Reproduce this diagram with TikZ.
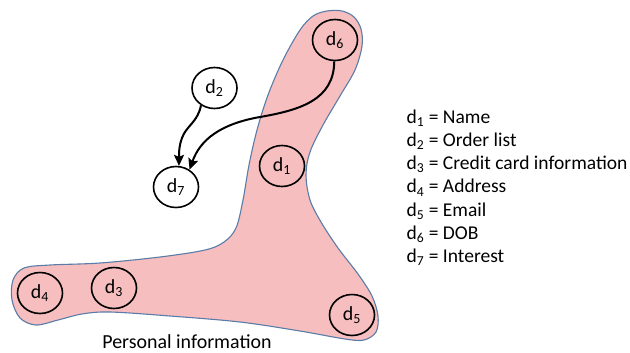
\documentclass[tikz,border=0pt]{standalone}
\usepackage{fontspec}
\setmainfont{Carlito}
\usetikzlibrary{shapes.geometric,arrows.meta}
\definecolor{blobfill}{HTML}{F6BEBE}
\definecolor{blobline}{HTML}{5A7CA8}
\tikzset{
  dnode/.style={ellipse,draw=black,line width=1.6bp,minimum width=45bp,minimum height=41bp,inner sep=0pt,font=\fontsize{20}{23}\selectfont},
  legend/.style={anchor=base west,inner sep=0pt,font=\fontsize{19.6}{23}\selectfont},
  conn/.style={line width=2bp,-{Stealth[length=11bp,width=10bp,inset=2bp]}},
}
\begin{document}
\begin{tikzpicture}[x=1bp,y=-1bp]
\useasboundingbox (0,0) rectangle (630,352);
% personal information region
\draw[fill=blobfill,draw=blobline,line width=1.1bp] plot[smooth cycle,tension=0.55] coordinates {
(327,11) (342,11) (354,17) (361,29) (362,46) (355,70) (340,96) (323,125) (310,152) (306,175) (310,200) (321,222) (338,248) (358,274) (372,296) (378,316) (376,332) (364,340) (345,339) (300,331) (240,322) (170,316) (110,312) (82,314) (58,320) (36,325) (20,318) (12,300) (13,280) (24,268) (50,265) (100,263) (160,257) (205,250) (224,242) (236,228) (243,200) (249,165) (257,130) (268,95) (283,60) (300,30) (313,16)};
\node[dnode] (d6) at (335,40) {d\textsubscript{6}};
\node[dnode] (d2) at (214.5,88) {d\textsubscript{2}};
\node[dnode] (d7) at (176,187) {d\textsubscript{7}};
\node[dnode] (d1) at (282,166) {d\textsubscript{1}};
\node[dnode] (d4) at (40,293) {d\textsubscript{4}};
\node[dnode] (d3) at (114,288) {d\textsubscript{3}};
\node[dnode] (d5) at (352,315) {d\textsubscript{5}};
% connectors
\draw[conn] (d2.-128) .. controls (198,122) and (186,126) .. (182,138) .. controls (179,146) and (179,152) .. (d7.82);
\draw[conn] (d6.-92) .. controls (334,100) and (300,110) .. (260,117) .. controls (220,124) and (200,140) .. (d7.52);
% label
\node[font=\fontsize{20}{23}\selectfont,anchor=base,inner sep=0pt] (pi) at (187,348) {Personal information};
% legend
\node[legend] (l1) at (406.5,123) {d\textsubscript{1} = Name};
\node[legend] (l2) at (406.5,146.3) {d\textsubscript{2} = Order list};
\node[legend] (l3) at (406.5,169.6) {d\textsubscript{3} = Credit card information};
\node[legend] (l4) at (406.5,192.9) {d\textsubscript{4} = Address};
\node[legend] (l5) at (406.5,216.2) {d\textsubscript{5} = Email};
\node[legend] (l6) at (406.5,239.5) {d\textsubscript{6} = DOB};
\node[legend] (l7) at (406.5,262.8) {d\textsubscript{7} = Interest};
\end{tikzpicture}
\end{document}
